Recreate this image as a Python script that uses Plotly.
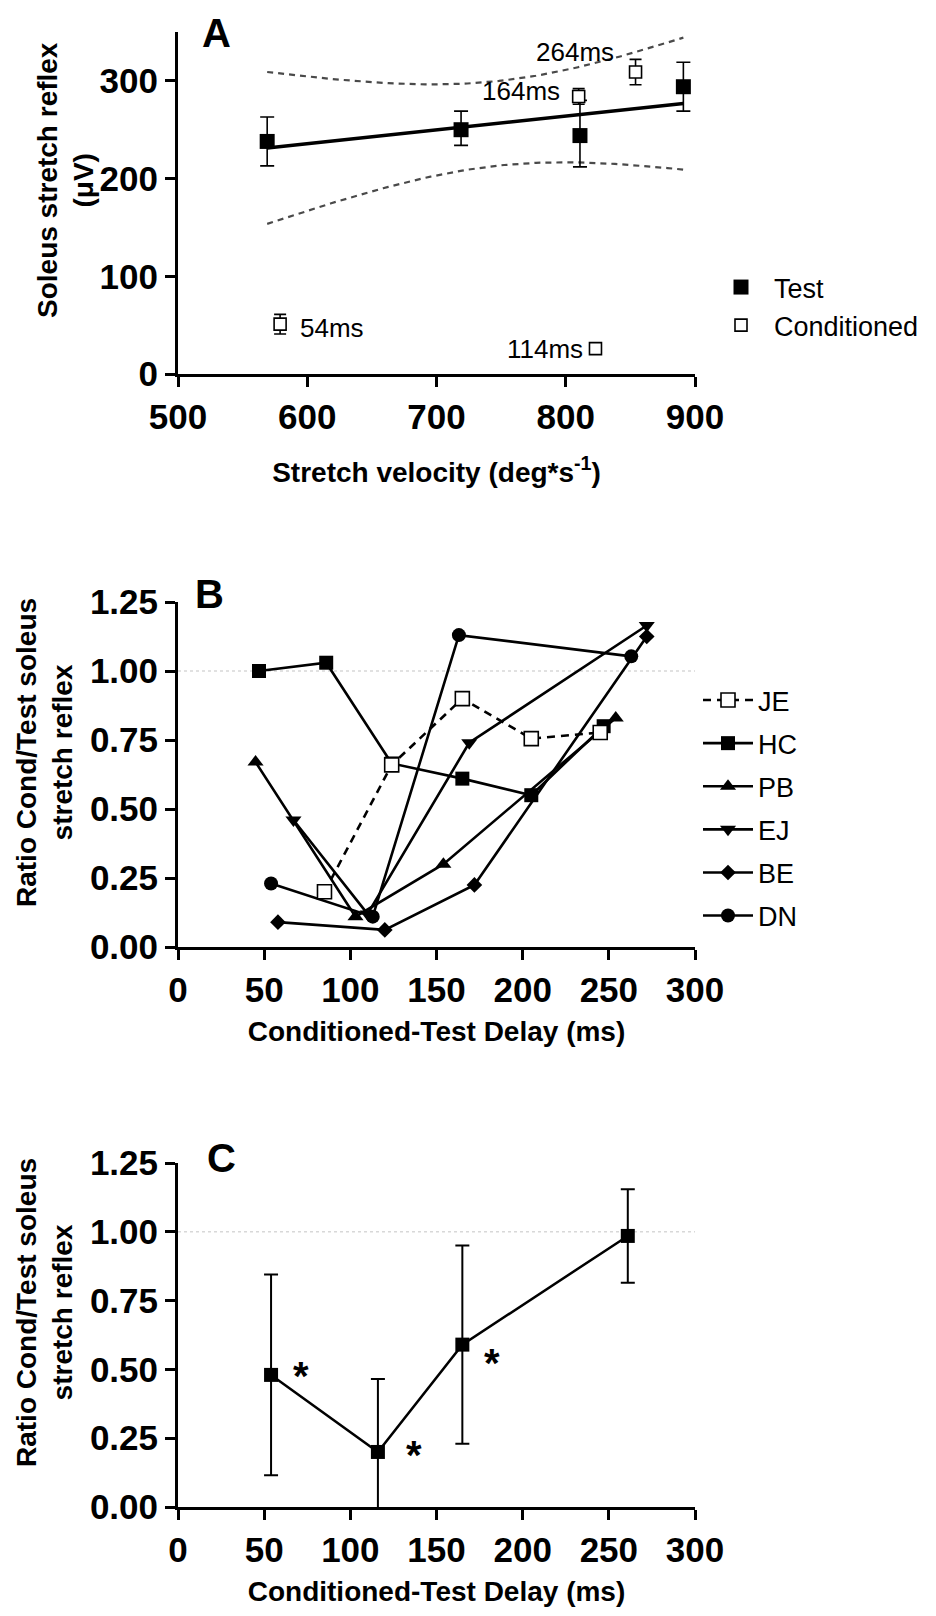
import numpy as np
import plotly.graph_objects as go

# ---------------- Panel A data ----------------
test_vel = [569, 719, 811, 891]
test_amp = [238, 250, 244, 294]
test_err_up = [25, 19, 36, 25]
test_err_dn = [25, 16, 32, 25]

cond_vel = [579, 823, 810, 854]
cond_amp = [51, 26, 284, 309]
cond_err = [10, 0, 8, 13]
cond_labels = ["54ms", "114ms", "164ms", "264ms"]
cond_label_anchor = ["left", "right", "right", "right"]
cond_label_dx = [18, -10, -17, -20]
cond_label_dy = [-4, 0, 5, 20]

# ---------------- Panel B data ----------------
b_subjects = ["JE", "HC", "PB", "EJ", "BE", "DN"]
b_delay = {
    "JE": [85, 124, 165, 205, 245],
    "HC": [47, 86, 124, 165, 205, 247],
    "PB": [45, 103, 154, 254],
    "EJ": [67, 110, 169, 272],
    "BE": [58, 120, 172, 272],
    "DN": [54, 113, 163, 263],
}
b_ratio = {
    "JE": [0.20, 0.66, 0.90, 0.755, 0.777],
    "HC": [1.00, 1.03, 0.665, 0.61, 0.55, 0.80],
    "PB": [0.67, 0.11, 0.30, 0.83],
    "EJ": [0.46, 0.12, 0.74, 1.165],
    "BE": [0.09, 0.062, 0.225, 1.125],
    "DN": [0.23, 0.11, 1.13, 1.053],
}
b_symbol = {"JE": "square", "HC": "square", "PB": "triangle-up",
            "EJ": "triangle-down", "BE": "diamond", "DN": "circle"}

# ---------------- Panel C data ----------------
c_delay = [54, 116, 165, 261]
c_ratio = [0.48, 0.20, 0.59, 0.985]
c_err = [0.365, 0.265, 0.36, 0.17]
c_star_dx = [30, 36, 30]
c_star_dy = [-1, -3, -18]

# ---------------- geometry helpers ----------------
# the page body adds an 8px offset, so layout pixel targets are shifted back by it
W, H = 936, 1616
OFF = 8
def fx(p):
    return (p - OFF) / W
def fy(p):
    return 1 - (p - OFF) / H

FONT = "Liberation Sans, Arial, Helvetica, sans-serif"
BLACK = "#000000"

fig = go.Figure()

# Regression fit for Test data and its 95% confidence band
xv = np.array(test_vel, dtype=float)
yv = np.array(test_amp, dtype=float)
slope, intercept = np.polyfit(xv, yv, 1)
n = len(xv)
resid = yv - (slope * xv + intercept)
s = np.sqrt(np.sum(resid ** 2) / (n - 2))
sxx = np.sum((xv - xv.mean()) ** 2)
T_CRIT = 4.303  # t(0.975, df=2)
xg = np.linspace(xv.min(), xv.max(), 80)
yg = slope * xg + intercept
half = T_CRIT * s * np.sqrt(1.0 / n + (xg - xv.mean()) ** 2 / sxx)

band_line = dict(color="#4a4a4a", width=2.2, dash="6px,5px")
fig.add_trace(go.Scatter(x=xg, y=yg + half, mode="lines", xaxis="x", yaxis="y",
                         line=band_line, showlegend=False, hoverinfo="skip"))
fig.add_trace(go.Scatter(x=xg, y=yg - half, mode="lines", xaxis="x", yaxis="y",
                         line=band_line, showlegend=False, hoverinfo="skip"))
fig.add_trace(go.Scatter(x=[xv.min(), xv.max()],
                         y=[slope * xv.min() + intercept, slope * xv.max() + intercept],
                         mode="lines", xaxis="x", yaxis="y",
                         line=dict(color=BLACK, width=3.5), showlegend=False))

fig.add_trace(go.Scatter(
    x=test_vel, y=test_amp, mode="markers", name="Test", xaxis="x", yaxis="y",
    marker=dict(symbol="square", size=15, color=BLACK),
    error_y=dict(type="data", symmetric=False, array=test_err_up, arrayminus=test_err_dn,
                 color=BLACK, thickness=1.6, width=7),
    legend="legend", legendgroup="t"))
fig.add_trace(go.Scatter(
    x=cond_vel, y=cond_amp, mode="markers", name="Conditioned", xaxis="x", yaxis="y",
    marker=dict(symbol="square", size=12, color="white", line=dict(color=BLACK, width=1.6)),
    error_y=dict(type="data", array=cond_err, color=BLACK, thickness=1.6, width=6),
    legend="legend", legendgroup="c"))

# Panel B traces (JE drawn last so its open squares sit on top)
order = ["HC", "PB", "EJ", "BE", "DN", "JE"]
sizes = {"JE": 14, "HC": 14, "PB": 14, "EJ": 14, "BE": 12, "DN": 14}
for name in order:
    is_je = name == "JE"
    fig.add_trace(go.Scatter(
        x=b_delay[name], y=b_ratio[name], mode="lines+markers", name=name,
        xaxis="x2", yaxis="y2",
        line=dict(color=BLACK, width=2.6, dash="8px,6px" if is_je else "solid"),
        marker=dict(symbol=b_symbol[name], size=sizes[name],
                    color="white" if is_je else BLACK,
                    line=dict(color=BLACK, width=1.6 if is_je else 0)),
        legend="legend2", legendgroup=name,
        legendrank=b_subjects.index(name) + 1))

# Panel C
fig.add_trace(go.Scatter(
    x=c_delay, y=c_ratio, mode="lines+markers", xaxis="x3", yaxis="y3",
    line=dict(color=BLACK, width=2.5),
    marker=dict(symbol="square", size=14, color=BLACK),
    error_y=dict(type="data", array=c_err, color=BLACK, thickness=2, width=7),
    showlegend=False))

# ---------------- axes ----------------
XDOM = [fx(178), fx(695)]
common = dict(showline=True, linecolor=BLACK, linewidth=3, ticks="outside",
              ticklen=10, tickwidth=3, tickcolor=BLACK, showgrid=False,
              zeroline=False, mirror=False, automargin=False,
              tickfont=dict(family=FONT, size=35, color=BLACK, weight="bold"))

title_font = dict(family=FONT, size=28, color=BLACK, weight="bold")

fig.update_layout(
    xaxis=dict(domain=XDOM, anchor="y", range=[500, 900],
               tickvals=[500, 600, 700, 800, 900],
               title=dict(text="Stretch velocity (deg*s<sup>-1</sup>)", font=title_font, standoff=28),
               **common),
    yaxis=dict(domain=[fy(374), fy(32)], anchor="x", range=[0, 350],
               tickvals=[0, 100, 200, 300], **common),
    xaxis2=dict(domain=XDOM, anchor="y2", range=[0, 300],
                tickvals=[0, 50, 100, 150, 200, 250, 300],
                title=dict(text="Conditioned-Test Delay (ms)", font=title_font, standoff=14),
                **common),
    yaxis2=dict(domain=[fy(947), fy(602)], anchor="x2", range=[0, 1.25],
                tickvals=[0, 0.25, 0.5, 0.75, 1.0, 1.25], tickformat=".2f", **common),
    xaxis3=dict(domain=XDOM, anchor="y3", range=[0, 300],
                tickvals=[0, 50, 100, 150, 200, 250, 300],
                title=dict(text="Conditioned-Test Delay (ms)", font=title_font, standoff=14),
                **common),
    yaxis3=dict(domain=[fy(1507), fy(1163)], anchor="x3", range=[0, 1.25],
                tickvals=[0, 0.25, 0.5, 0.75, 1.0, 1.25], tickformat=".2f", **common),
)

# reference lines at ratio 1.0
for ax in ["2", "3"]:
    fig.add_shape(type="line", xref=f"x{ax} domain", yref=f"y{ax}", x0=0, x1=1, y0=1.0, y1=1.0,
                  line=dict(color="#d8d8d8", width=1.5, dash="dot"), layer="below")

annotations = []
letter_font = dict(family=FONT, size=40, color=BLACK, weight="bold")
# panel letters
annotations.append(dict(text="A", x=fx(216), y=fy(9), xref="paper", yref="paper",
                        showarrow=False, xanchor="center", yanchor="top", font=letter_font))
for letter, px, py in [("B", 209, 594), ("C", 221, 1158)]:
    annotations.append(dict(text=letter, x=fx(px), y=fy(py), xref="paper", yref="paper",
                            showarrow=False, xanchor="center", yanchor="middle",
                            font=letter_font))
# y-axis titles
ytitle_font = dict(family=FONT, size=28, color=BLACK, weight="bold")
annotations.append(dict(text="Soleus stretch reflex<br>(μV)", x=fx(66), y=fy(180),
                        xref="paper", yref="paper", showarrow=False, textangle=-90,
                        xanchor="center", yanchor="middle", font=ytitle_font))
for py in [753, 1313]:
    annotations.append(dict(text="Ratio Cond/Test soleus<br>stretch reflex", x=fx(44), y=fy(py),
                            xref="paper", yref="paper", showarrow=False, textangle=-90,
                            xanchor="center", yanchor="middle", font=ytitle_font))
# delay labels in panel A
for xv_, yv_, lab, anc, dx, dy in zip(cond_vel, cond_amp, cond_labels,
                                       cond_label_anchor, cond_label_dx, cond_label_dy):
    annotations.append(dict(text=lab, x=xv_, y=yv_, xref="x", yref="y", showarrow=False,
                            xanchor=anc, yanchor="middle", xshift=dx, yshift=dy,
                            font=dict(family=FONT, size=26, color=BLACK)))
# significance asterisks in panel C
for xv_, yv_, dx, dy in zip(c_delay[:3], c_ratio[:3], c_star_dx, c_star_dy):
    annotations.append(dict(text="*", x=xv_, y=yv_, xref="x3", yref="y3", showarrow=False,
                            xanchor="center", yanchor="middle", xshift=dx, yshift=dy,
                            font=dict(family=FONT, size=40, color=BLACK, weight="bold")))

fig.update_layout(
    annotations=annotations,
    width=W, height=H,
    margin=dict(l=0, r=0, t=0, b=0, pad=0, autoexpand=False),
    paper_bgcolor="white", plot_bgcolor="white",
    font=dict(family=FONT, color=BLACK),
    legend=dict(x=fx(708), y=fy(263), xanchor="left", yanchor="top",
                font=dict(family=FONT, size=27, color=BLACK),
                bgcolor="rgba(0,0,0,0)", tracegroupgap=0, itemwidth=56),
    legend2=dict(x=fx(698), y=fy(676), xanchor="left", yanchor="top",
                 font=dict(family=FONT, size=27, color=BLACK),
                 bgcolor="rgba(0,0,0,0)", tracegroupgap=5, itemwidth=50),
)

fig.write_html("out.html")
